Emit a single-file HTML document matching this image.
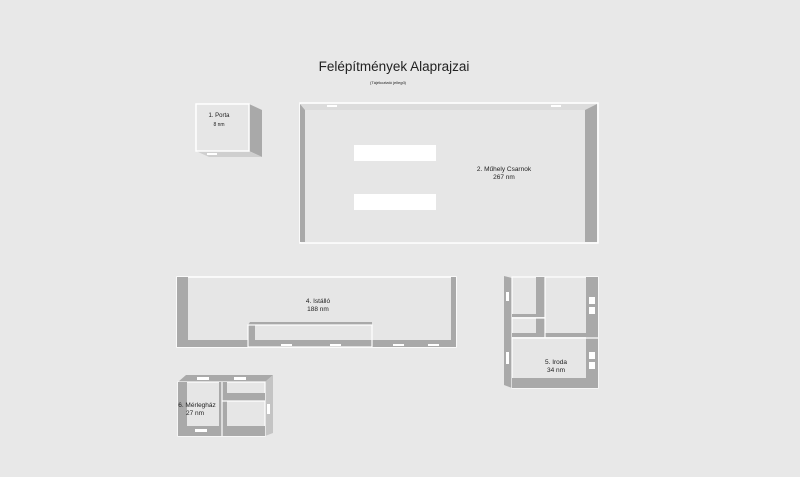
<!DOCTYPE html>
<html><head><meta charset="utf-8"><style>
body{margin:0;background:#e8e8e8;}
svg{display:block}
text{font-family:"Liberation Sans",sans-serif;fill:#222;text-anchor:middle}
</style></head><body>
<svg width="800" height="477" viewBox="0 0 800 477" xmlns="http://www.w3.org/2000/svg">
<rect width="800" height="477" fill="#e8e8e8"/>
<text x="394" y="71" font-size="13.5">Felépítmények Alaprajzai</text>
<text x="388" y="84" font-size="4">(Tájékoztató jellegű)</text>

<!-- Porta -->
<polygon points="249,104 262,110 262,157 249,151" fill="#a9a9a9"/>
<polygon points="196,151 249,151 262,157 209,157" fill="#cfcfcf"/>
<rect x="196" y="104" width="53" height="47" fill="#e6e6e6" stroke="#fff" stroke-width="1.5"/>
<rect x="207" y="153" width="10" height="2" fill="#fff"/>
<text x="219" y="117" font-size="6">1. Porta</text>
<text x="219" y="126" font-size="5">8 nm</text>

<!-- Csarnok -->
<rect x="300" y="103" width="298" height="140" fill="#e6e6e6" stroke="#fff" stroke-width="1.5"/>
<polygon points="300,104 597,104 585,110 305,110" fill="#dcdcdc"/>
<polygon points="300,104 305,110 305,242 300,242" fill="#a9a9a9"/>
<polygon points="597,104 585,110 585,242 597,242" fill="#a9a9a9"/>
<rect x="327" y="105" width="10" height="2" fill="#fff"/>
<rect x="551" y="105" width="10" height="2" fill="#fff"/>
<rect x="354" y="145" width="82" height="16" fill="#fff"/>
<rect x="354" y="194" width="82" height="16" fill="#fff"/>
<text x="504" y="171" font-size="6.5">2. Műhely Csarnok</text>
<text x="504" y="179" font-size="6.5">267 nm</text>

<!-- Istálló -->
<rect x="177" y="277" width="279" height="70" fill="#e6e6e6" stroke="#fff" stroke-width="1.5"/>
<rect x="177" y="277" width="11" height="70" fill="#a9a9a9"/>
<rect x="451" y="277" width="5" height="70" fill="#a9a9a9"/>
<rect x="177" y="340" width="279" height="7" fill="#a9a9a9"/>
<polygon points="248,325 250,322 372,322 372,325" fill="#a9a9a9"/>
<rect x="248" y="325" width="7" height="20" fill="#a9a9a9"/>
<rect x="248" y="325" width="124" height="22" fill="none" stroke="#fff" stroke-width="1.2"/>
<rect x="281" y="344" width="11" height="2" fill="#fff"/>
<rect x="330" y="344" width="11" height="2" fill="#fff"/>
<rect x="393" y="344" width="11" height="2" fill="#fff"/>
<rect x="428" y="344" width="11" height="2" fill="#fff"/>
<text x="318" y="303" font-size="6.5">4. Istálló</text>
<text x="318" y="311" font-size="6.5">188 nm</text>

<!-- Iroda -->
<polygon points="504,276 512,278 512,388 504,385" fill="#a9a9a9"/>
<rect x="512" y="277" width="86" height="111" fill="#e6e6e6" stroke="#fff" stroke-width="1.2"/>
<rect x="536" y="277" width="9" height="40" fill="#a9a9a9"/>
<rect x="512" y="314" width="33" height="3" fill="#a9a9a9"/>
<rect x="536" y="318" width="9" height="17" fill="#a9a9a9"/>
<rect x="512" y="333" width="86" height="4" fill="#a9a9a9"/>
<rect x="586" y="277" width="12" height="111" fill="#a9a9a9"/>
<rect x="512" y="378" width="86" height="10" fill="#a9a9a9"/>
<line x1="545" y1="277" x2="545" y2="338" stroke="#fff" stroke-width="1.2"/>
<line x1="512" y1="318" x2="545" y2="318" stroke="#fff" stroke-width="1.2"/>
<line x1="512" y1="338" x2="598" y2="338" stroke="#fff" stroke-width="1.2"/>
<rect x="506" y="292" width="3" height="9" fill="#fff"/>
<rect x="506" y="352" width="3" height="12" fill="#fff"/>
<rect x="589" y="297" width="6" height="7" fill="#fff"/>
<rect x="589" y="307" width="6" height="7" fill="#fff"/>
<rect x="589" y="352" width="6" height="7" fill="#fff"/>
<rect x="589" y="362" width="6" height="7" fill="#fff"/>
<text x="556" y="364" font-size="6.5">5. Iroda</text>
<text x="556" y="372" font-size="6.5">34 nm</text>

<!-- Mérlegház -->
<polygon points="178,382 186,375 273,375 265,382" fill="#a9a9a9"/>
<polygon points="265,382 273,375 273,433 265,436" fill="#c4c4c4"/>
<rect x="178" y="382" width="87" height="54" fill="#e6e6e6" stroke="#fff" stroke-width="1.2"/>
<rect x="178" y="382" width="9" height="54" fill="#a9a9a9"/>
<rect x="178" y="426" width="87" height="10" fill="#a9a9a9"/>
<rect x="219" y="382" width="8" height="54" fill="#a9a9a9"/>
<rect x="227" y="393" width="38" height="8" fill="#a9a9a9"/>
<line x1="222" y1="382" x2="222" y2="436" stroke="#fff" stroke-width="1.2"/>
<line x1="222" y1="401" x2="265" y2="401" stroke="#fff" stroke-width="1.2"/>
<rect x="197" y="377" width="12" height="3" fill="#fff"/>
<rect x="234" y="377" width="12" height="3" fill="#fff"/>
<rect x="195" y="429" width="12" height="3" fill="#fff"/>
<rect x="267" y="404" width="3" height="10" fill="#fff"/>
<text x="197" y="407" font-size="6.5">6. Mérlegház</text>
<text x="195" y="415" font-size="6.5">27 nm</text>
</svg>
</body></html>
